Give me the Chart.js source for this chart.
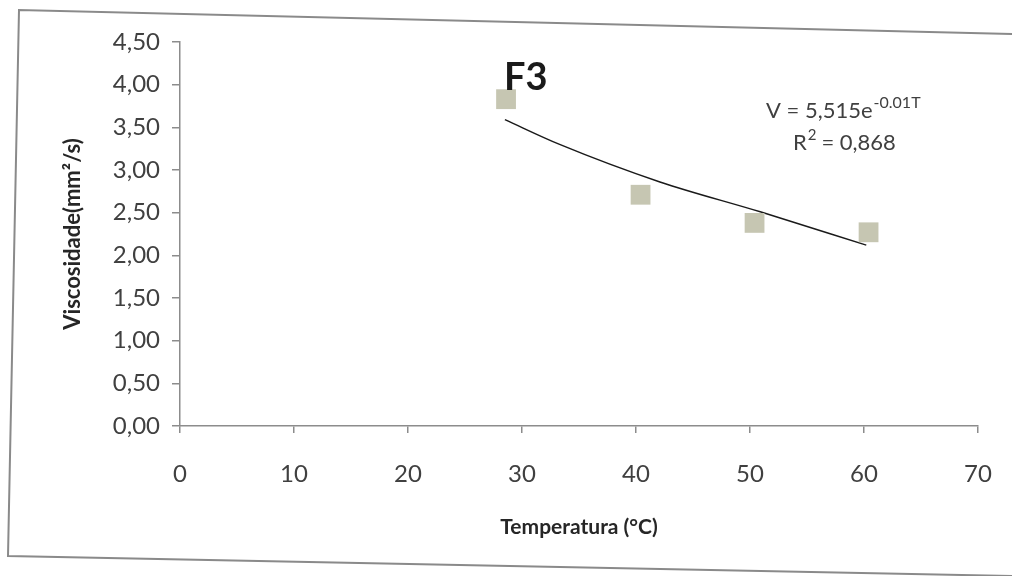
<!DOCTYPE html>
<html>
<head>
<meta charset="utf-8">
<script src="https://cdn.jsdelivr.net/npm/chart.js@4/dist/chart.umd.min.js"></script>
<style>
  html, body { margin: 0; padding: 0; background: #ffffff; }
  canvas { display: block; }
</style>
</head>
<body>
<canvas id="myChart" width="1012" height="576"></canvas>
<script>
const canvas = document.getElementById('myChart');

// Messpunkte (Temperatur in °C, Viskosität in mm²/s)
const temperaturen = [28.6, 40.4, 50.4, 60.4];
const viskositaet = [3.83, 2.71, 2.38, 2.27];

const trendTemp = [28.5, 33.3, 42.1, 50.9, 60.2];
const trendVisk = [3.59, 3.30, 2.86, 2.51, 2.12];

// Achsen
const xTicks = [0, 10, 20, 30, 40, 50, 60, 70];
const yTicks = [0, 0.5, 1, 1.5, 2, 2.5, 3, 3.5, 4, 4.5];

const titel = 'F3';
const gleichung = 'V = 5,515e';
const gleichungExp = '-0.01T';
const bestimmtheit = '0,868';

const punkte = temperaturen.map((t, i) => ({ x: t, y: viskositaet[i] }));
const trend = trendTemp.map((t, i) => ({ x: t, y: trendVisk[i] }));

const textFarbe = '#404040';
const achsenFarbe = '#8c8c8c';

// Rahmen, Titel und Gleichung zeichnen
const extrasPlugin = {
  id: 'extras',
  beforeDraw(chart) {
    const ctx = chart.ctx;
    ctx.save();
    ctx.fillStyle = '#ffffff';
    ctx.fillRect(0, 0, chart.width, chart.height);
    ctx.strokeStyle = '#8a8a8a';
    ctx.lineWidth = 2;
    ctx.beginPath();
    ctx.moveTo(1012, 34);
    ctx.lineTo(19, 10);
    ctx.lineTo(8, 556);
    ctx.lineTo(1012, 576);
    ctx.stroke();
    ctx.restore();
  },
  afterDraw(chart) {
    const ctx = chart.ctx;
    ctx.save();
    ctx.fillStyle = '#1a1a1a';
    ctx.font = 'bold 38px Lato';
    ctx.textBaseline = 'alphabetic';
    ctx.fillText(titel, 504, 90);

    ctx.fillStyle = textFarbe;
    ctx.font = '22px Lato';
    ctx.fillText(gleichung, 766, 118);
    let w = ctx.measureText(gleichung).width;
    ctx.font = '16px Lato';
    ctx.fillText(gleichungExp, 766 + w + 1, 108);

    ctx.font = '22px Lato';
    ctx.fillText('R', 793, 150);
    w = ctx.measureText('R').width;
    ctx.font = '15px Lato';
    ctx.fillText('2', 793 + w + 1, 140);
    ctx.font = '22px Lato';
    ctx.fillText(' = ' + bestimmtheit, 793 + w + 9, 150);
    ctx.restore();
  }
};

new Chart(canvas, {
  type: 'scatter',
  data: {
    datasets: [
      {
        label: 'F3',
        data: punkte,
        pointStyle: 'rect',
        pointRadius: 14,
        pointHoverRadius: 14,
        pointBackgroundColor: 'rgb(198, 198, 178)',
        pointBorderWidth: 0,
        showLine: false
      },
      {
        label: 'Trend',
        data: trend,
        showLine: true,
        pointRadius: 0,
        borderColor: '#1a1a1a',
        borderWidth: 1.5,
        cubicInterpolationMode: 'monotone',
        fill: false
      }
    ]
  },
  plugins: [extrasPlugin],
  options: {
    responsive: false,
    animation: false,
    layout: {
      padding: { left: 0, top: 42, right: 34, bottom: 0 }
    },
    plugins: {
      legend: { display: false },
      tooltip: { enabled: false }
    },
    scales: {
      x: {
        type: 'linear',
        min: 0,
        max: 70,
        afterBuildTicks: (scale) => { scale.ticks = xTicks.map(v => ({ value: v })); },
        afterFit: (scale) => {
          scale.height = 150;
          // Tick-Abstand soll nicht seitlich einrücken
          scale.paddingLeft = 0;
          scale.paddingRight = 0;
        },
        border: { color: achsenFarbe, width: 1.5 },
        grid: { drawOnChartArea: false, drawTicks: true, tickLength: 7, color: achsenFarbe, lineWidth: 1.5 },
        ticks: {
          color: textFarbe,
          padding: 27,
          maxRotation: 0,
          font: { family: 'Lato', size: 24 }
        },
        title: {
          display: true,
          text: 'Temperatura (°C)',
          color: '#262626',
          padding: { top: 0, bottom: 36 },
          font: { family: 'Lato', size: 21, weight: 'bold' }
        }
      },
      y: {
        min: 0,
        max: 4.5,
        afterBuildTicks: (scale) => { scale.ticks = yTicks.map(v => ({ value: v })); },
        afterFit: (scale) => { scale.width = 180; },
        border: { color: achsenFarbe, width: 1.5 },
        grid: { drawOnChartArea: false, drawTicks: true, tickLength: 8, color: achsenFarbe, lineWidth: 1.5 },
        ticks: {
          color: textFarbe,
          padding: 12,
          font: { family: 'Lato', size: 24 },
          callback: (v) => v.toFixed(2).replace('.', ',')
        },
        title: {
          display: true,
          text: 'Viscosidade(mm²/s)',
          color: '#262626',
          padding: { top: 60, bottom: 0 },
          font: { family: 'Lato', size: 22, weight: 'bold' }
        }
      }
    }
  }
});
</script>
</body>
</html>
